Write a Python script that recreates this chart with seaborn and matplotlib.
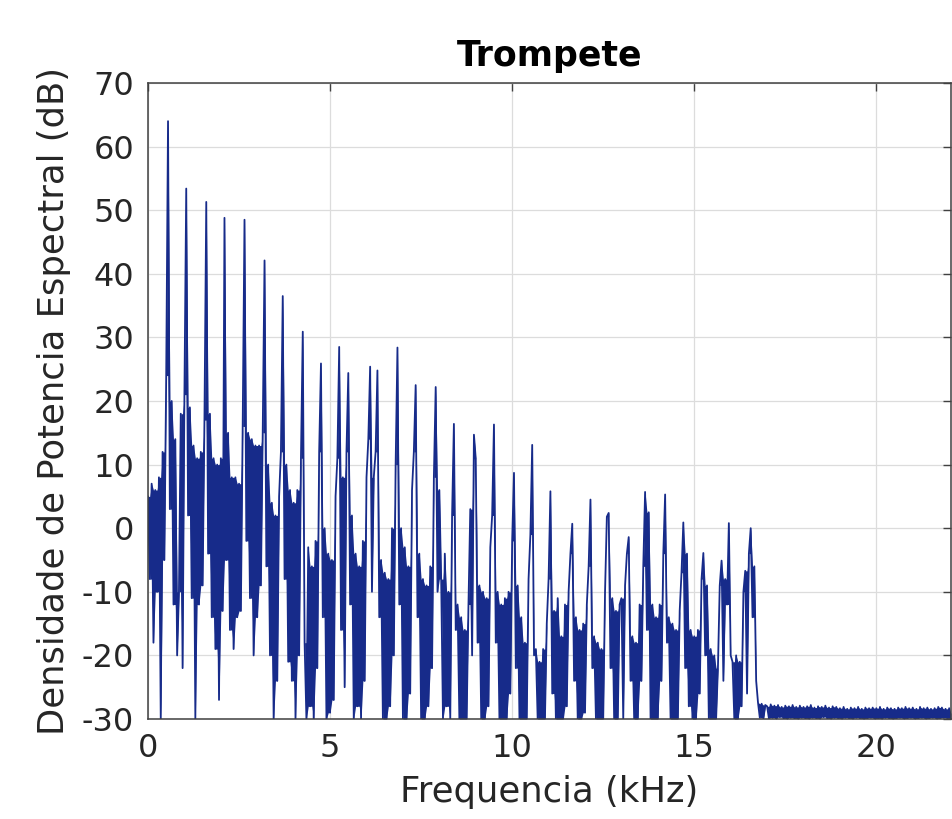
import numpy as np
import pandas as pd
import matplotlib
matplotlib.use("Agg")
import matplotlib.pyplot as plt
import seaborn as sns

freq_step_khz = 0.05
db_0k  = [5, -8, 7, -18, 6, -10, 8, -30, 12, -5, 24, 64, 3, 20, -12, 14, -20, -10, 18, -22]
db_1k  = [21, 53.4, 2, 19, -11, 13, -30, 11, -12, 12, -9, 17, 51.3, -4, 18, -14, 11, -19, 10, -27]
db_2k  = [11, -13, 48.8, -5, 15, -16, 8, -19, 8, -14, 7, -13, 16, 48.5, -2, 15, -11, 14, -20, 13]
db_3k  = [-14, 13, -9, 15, 42.1, -6, 10, -20, 4, -30, 2, -24, 5, 12, 36.5, -8, 10, -21, 6, -24]
db_4k  = [4, -30, 6, -20, 11, 30.9, -18, -30, -3, -28, -6, -30, -2, -22, 12, 25.9, -14, 0, -30, -4]
db_5k  = [-29, -5, -27, 5, 11, 28.5, -16, 8, -25, 12, 24.4, -12, 2, -30, -4, -28, -6, -30, -2, -24]
db_6k  = [8, 14, 25.4, -10, 8, 12, 24.8, -14, -5, -30, -7, -30, -8, -28, 0, -20, 10, 28.4, -12, 0]
db_7k  = [-30, -3, -30, -6, -26, 6, 12, 22.5, -14, -4, -30, -8, -30, -9, -28, -6, -22, 8, 22.2, -10]
db_8k  = [6, -8, -30, -4, -28, -10, -30, 2, 16.4, -16, -12, -30, -14, -30, -16, -30, -12, 3, -20, 14.7]
db_9k  = [10.9, -18, -9, -30, -10, -30, -11, -28, -3, 2, 16.3, -18, -10, -30, -12, -30, -11, -30, -10, -26]
db_10k = [-2, 8.7, -22, -9, -30, -14, -30, -18, -30, -8, -1, 13.1, -20, -19, -30, -21, -30, -19, -30, -15]
db_11k = [-8, 5.8, -26, -13, -30, -11, -30, -17, -30, -12, -28, -10, -4, 0.7, -24, -14, -30, -16, -30, -15]
db_12k = [-29, -12, -6, 4.5, -22, -17, -30, -18, -30, -19, -30, -10, 1.8, 2.4, -22, -11, -30, -13, -30, -12]
db_13k = [-11, -30, -9, -4, -1.4, -24, -17, -30, -18, -30, -12, -24, -6, 5.7, -16, 2.5, -30, -12, -30, -14]
db_14k = [-30, -12, -24, -4, 5.3, -18, -14, -30, -15, -30, -16, -30, -13, -7, 0.9, -22, -4, -28, -16, -30]
db_15k = [-17, -30, -16, -26, -8, -3.9, -20, -9, -30, -19, -30, -20, -30, -22, -9, -5.1, -24, -8, -12, 0.8]
db_16k = [-20, -21, -30, -20, -30, -21, -28, -10, -6.7, -26, -4, 0, -14, -6, -24, -27.4, -29.8, -27.6, -29.9, -27.8]
db_17k = [-28.0, -29.9, -27.7, -29.8, -27.9, -30, -27.8, -29.7, -28.1, -29.9, -27.9, -30, -28.0, -29.8, -27.8, -29.9, -28.1, -30, -27.9, -29.8]
db_18k = [-28.1, -29.9, -28.0, -30, -27.8, -29.8, -28.2, -29.9, -28.0, -30, -28.1, -29.7, -27.9, -29.9, -28.2, -30, -28.0, -29.8, -28.1, -29.9]
db_19k = [-28.3, -30, -28.1, -29.8, -28.4, -29.9, -28.2, -30, -28.3, -29.8, -28.1, -29.9, -28.4, -30, -28.2, -29.9, -28.3, -29.8, -28.2, -30]
db_20k = [-28.3, -29.9, -28.1, -30, -28.4, -29.8, -28.2, -29.9, -28.3, -30, -28.4, -29.9, -28.2, -29.8, -28.3, -30, -28.1, -29.9, -28.3, -29.8]
db_21k = [-28.2, -30, -28.4, -29.9, -28.1, -29.8, -28.3, -30, -28.2, -29.9, -28.4, -29.8, -28.3, -30, -28.1, -29.9, -28.2, -29.8, -28.4, -29.9]
db_22k = [-28.3, -30]

x_ticks = [0, 5, 10, 15, 20]
y_ticks = [-30, -20, -10, 0, 10, 20, 30, 40, 50, 60, 70]

title_text = "Trompete"
x_label = "Frequencia (kHz)"
y_label = "Densidade de Potencia Espectral (dB)"
line_color = "#172b8a"

# ---- build table ----
spectrum_db = (db_0k + db_1k + db_2k + db_3k + db_4k + db_5k + db_6k + db_7k + db_8k
               + db_9k + db_10k + db_11k + db_12k + db_13k + db_14k + db_15k + db_16k
               + db_17k + db_18k + db_19k + db_20k + db_21k + db_22k)
freq_khz = np.arange(len(spectrum_db)) * freq_step_khz
df = pd.DataFrame({"freq": freq_khz, "db": spectrum_db})
# the real trace is so densely sampled that it paints solid the band between
# each sample and the median of its neighbours
med = df["db"].rolling(3, center=True, min_periods=1).median()
df["band_hi"] = np.maximum(df["db"], med)
df["band_lo"] = np.minimum(df["db"], med)

sns.set_style("white")
plt.rcParams["font.family"] = ["DejaVu Sans"]
plt.rcParams["axes.unicode_minus"] = False

fig = plt.figure(figsize=(9.53, 8.19), dpi=100)
W, H = 953, 819
ax = fig.add_axes([148 / W, 1 - 719 / H, (951 - 148) / W, (719 - 83) / H])

ax.fill_between(df["freq"], df["band_lo"], df["band_hi"], color=line_color,
                linewidth=0, zorder=2)
sns.lineplot(data=df, x="freq", y="db", ax=ax, color=line_color, linewidth=1.3,
             estimator=None, sort=False, zorder=3)

ax.set_xlim(0, 22.05)
ax.set_ylim(-30, 70)
ax.set_xticks(x_ticks)
ax.set_yticks(y_ticks)
ax.grid(True, color="#dcdcdc", linewidth=0.9)
ax.set_axisbelow(True)

for s in ax.spines.values():
    s.set_visible(True)
    s.set_color("#404040")
    s.set_linewidth(1.1)
    s.set_zorder(5)

ax.tick_params(axis="both", which="both", direction="in", length=6, width=1.0,
               color="#404040", top=True, right=True, labelsize=23,
               labelcolor="#262626", pad=10)

ax.set_xlabel(x_label, fontsize=25.5, color="#262626", labelpad=8)
ax.set_ylabel(y_label, fontsize=25.5, color="#262626", labelpad=8)
ax.set_title(title_text, fontsize=25, fontweight="bold", color="black", pad=12)

fig.savefig("out.png", dpi=100)
